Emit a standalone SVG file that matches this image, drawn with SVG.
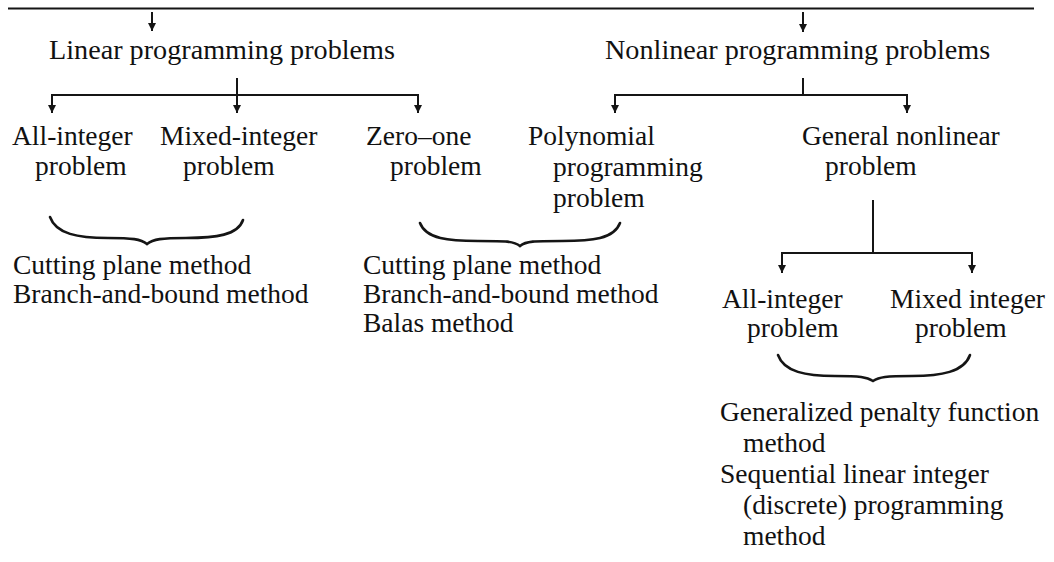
<svg xmlns="http://www.w3.org/2000/svg" width="1054" height="562" viewBox="0 0 1054 562">
<defs>
<style>
text{font-family:"Liberation Serif","Times New Roman",serif;font-size:27.5px;fill:#111}
.hd{font-size:28.2px}
.ln{stroke:#151515;stroke-width:2;fill:none}
.br{stroke:#151515;stroke-width:2.6;fill:none;stroke-linecap:round}
</style>
<marker id="ah" viewBox="0 0 8 8" refX="8" refY="4" markerWidth="8" markerHeight="8" markerUnits="userSpaceOnUse" orient="auto">
<path d="M0,0 L8,4 L0,8 Z" fill="#151515"/>
</marker>
</defs>
<rect width="1054" height="562" fill="#fff"/>
<g id="connectors">
<line class="ln" x1="8" y1="8.5" x2="1034" y2="8.5"/>
<line class="ln" x1="152" y1="12" x2="152" y2="31" marker-end="url(#ah)"/>
<line class="ln" x1="803" y1="12" x2="803" y2="32" marker-end="url(#ah)"/>
<line class="ln" x1="237" y1="78" x2="237" y2="95"/>
<line class="ln" x1="52" y1="95" x2="418" y2="95"/>
<line class="ln" x1="52" y1="94" x2="52" y2="113" marker-end="url(#ah)"/>
<line class="ln" x1="237" y1="95" x2="237" y2="113" marker-end="url(#ah)"/>
<line class="ln" x1="418" y1="94" x2="418" y2="113" marker-end="url(#ah)"/>
<line class="ln" x1="803" y1="78" x2="803" y2="95"/>
<line class="ln" x1="615" y1="95" x2="907" y2="95"/>
<line class="ln" x1="615" y1="94" x2="615" y2="113" marker-end="url(#ah)"/>
<line class="ln" x1="907" y1="94" x2="907" y2="113" marker-end="url(#ah)"/>
<line class="ln" x1="873" y1="200" x2="873" y2="253"/>
<line class="ln" x1="782" y1="253" x2="972" y2="253"/>
<line class="ln" x1="782" y1="252" x2="782" y2="273" marker-end="url(#ah)"/>
<line class="ln" x1="972" y1="252" x2="972" y2="273" marker-end="url(#ah)"/>
<path class="br" d="M50,217 C56,234 78,238 108,238 C132,238 141,239 147,244 C153,239 162,238 186,238 C216,238 238,235 243,220"/>
<path class="br" d="M420,223 C426,239 449,241 478,241 C506,241 514,241 520,246 C526,241 534,241 562,241 C592,241 614,239 620,223"/>
<path class="br" d="M778,355 C784,372 806,376 835,376 C860,376 867,377 873,381 C879,377 886,376 912,376 C941,376 964,372 970,355"/>
</g>
<g id="linear"><text class="hd" x="49" y="59">Linear programming problems</text></g>
<g id="nonlinear"><text class="hd" x="605" y="59">Nonlinear programming problems</text></g>
<g id="all-integer"><text x="12" y="145">All-integer</text><text x="35" y="175">problem</text></g>
<g id="mixed-integer"><text x="160" y="145">Mixed-integer</text><text x="183" y="175">problem</text></g>
<g id="zero-one"><text x="366" y="145">Zero–one</text><text x="390" y="175">problem</text></g>
<g id="polynomial"><text x="528" y="145">Polynomial</text><text x="553" y="176">programming</text><text x="553" y="207">problem</text></g>
<g id="general-nonlinear"><text x="802" y="145">General nonlinear</text><text x="825" y="175">problem</text></g>
<g id="methods-1"><text x="13" y="274">Cutting plane method</text><text x="13" y="303">Branch-and-bound method</text></g>
<g id="methods-2"><text x="363" y="274">Cutting plane method</text><text x="363" y="303">Branch-and-bound method</text><text x="363" y="332">Balas method</text></g>
<g id="nl-all-integer"><text x="722" y="308">All-integer</text><text x="747" y="337">problem</text></g>
<g id="nl-mixed-integer"><text x="890" y="308">Mixed integer</text><text x="915" y="337">problem</text></g>
<g id="methods-3"><text x="720" y="421">Generalized penalty function</text><text x="743" y="452">method</text><text x="720" y="483">Sequential linear integer</text><text x="743" y="514">(discrete) programming</text><text x="743" y="545">method</text></g>
</svg>
